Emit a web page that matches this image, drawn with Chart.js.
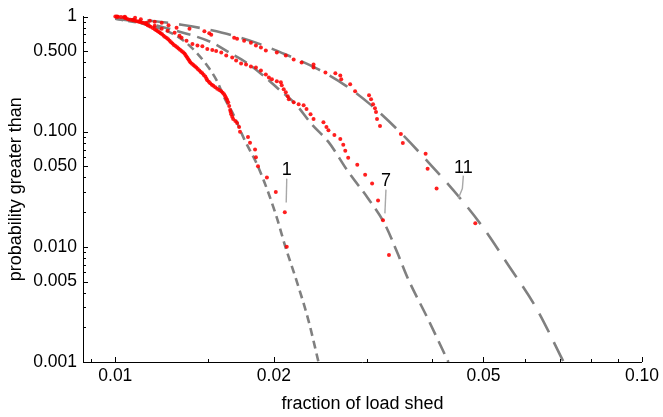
<!DOCTYPE html>
<html>
<head>
<meta charset="utf-8">
<script src="https://cdn.jsdelivr.net/npm/chart.js@4.4.1/dist/chart.umd.min.js"></script>
<style>
  html, body { margin: 0; padding: 0; background: #fff; }
</style>
</head>
<body>
<canvas id="chart" width="663" height="417"></canvas>
<script>
// axis ranges and ticks
const xMin = 0.008682, xMax = 0.1;
const yMin = 0.001, yMax = 1;
const xTicks = [0.009, 0.01, 0.015, 0.02, 0.03, 0.04, 0.05, 0.06, 0.07, 0.08, 0.09, 0.1];
const xMajor = [0.01, 0.02, 0.05, 0.1];
const xMajorLabels = ['0.01', '0.02', '0.05', '0.10'];
const yTicks = [0.001, 0.002, 0.003, 0.004, 0.005, 0.006, 0.007, 0.008, 0.009,
  0.01, 0.02, 0.03, 0.04, 0.05, 0.06, 0.07, 0.08, 0.09,
  0.1, 0.2, 0.3, 0.4, 0.5, 0.6, 0.7, 0.8, 0.9, 1];
const yMajor = [0.001, 0.005, 0.01, 0.05, 0.1, 0.5, 1];
const yMajorLabels = ['0.001', '0.005', '0.010', '0.050', '0.100', '0.500', '1'];

// model curves (dashed)
const curve1X = [0.0100, 0.01128, 0.01284, 0.01383, 0.01489, 0.01561, 0.01609, 0.01681, 0.01756, 0.01874, 0.02017, 0.02107, 0.02200, 0.02327, 0.02431];
const curve1Y = [0.955, 0.865, 0.709, 0.559, 0.383, 0.2735, 0.199, 0.1366, 0.0865, 0.0477, 0.01914, 0.00975, 0.00537, 0.00229, 0.001];
const curve7X = [0.0100, 0.01138, 0.01324, 0.01528, 0.01645, 0.01771, 0.01898, 0.02043, 0.02200, 0.02358, 0.02539, 0.02768, 0.0302, 0.0325, 0.0344, 0.0359, 0.0392, 0.0429];
const curve7Y = [0.955, 0.882, 0.738, 0.593, 0.4865, 0.399, 0.3143, 0.2334, 0.1733, 0.1165, 0.0815, 0.0449, 0.0263, 0.0157, 0.00865, 0.00537, 0.00238, 0.001];
const curve11X = [0.0100, 0.01163, 0.01336, 0.01596, 0.01849, 0.02107, 0.02431, 0.02733, 0.0306, 0.0344, 0.0397, 0.0452, 0.0502, 0.0554, 0.0631, 0.0710];
const curve11Y = [0.955, 0.918, 0.848, 0.724, 0.593, 0.4675, 0.347, 0.2527, 0.170, 0.1034, 0.0516, 0.0263, 0.01422, 0.00724, 0.0029, 0.001];

// observed points (red)
const obs1X = [0.01000, 0.01012, 0.01025, 0.01038, 0.01048, 0.01057, 0.01068, 0.01080, 0.01090, 0.01099,
  0.01108, 0.01118, 0.01128, 0.01138, 0.01145, 0.01152, 0.01160, 0.01167, 0.01178, 0.01188,
  0.01196, 0.01204, 0.01212, 0.01219, 0.01227, 0.01235, 0.01243, 0.01252, 0.01260, 0.01268,
  0.01276, 0.01284, 0.01292, 0.01301, 0.01310, 0.01318, 0.01327, 0.01336, 0.01345, 0.01353,
  0.01359, 0.01365, 0.01371, 0.01377, 0.01383, 0.01389, 0.01398, 0.01407, 0.01416, 0.01425,
  0.01434, 0.01444, 0.01453, 0.01463, 0.01472, 0.01482, 0.01489, 0.01495, 0.01505, 0.01514,
  0.01525, 0.01535, 0.01548, 0.01561, 0.01575, 0.01589, 0.01599, 0.01609, 0.01617, 0.01624,
  0.01631, 0.01638, 0.01645, 0.01652, 0.01656, 0.01660, 0.01667, 0.01674, 0.01690, 0.01703,
  0.01718, 0.01725, 0.01786, 0.01802, 0.01842, 0.01849, 0.01866, 0.01940, 0.02017, 0.02098, 0.02116];
const obs1Y = [1.000, 0.995, 0.990, 0.984, 0.965, 0.946, 0.936, 0.927, 0.918, 0.909,
  0.900, 0.891, 0.882, 0.874, 0.857, 0.840, 0.828, 0.815, 0.795, 0.776,
  0.760, 0.745, 0.731, 0.717, 0.700, 0.682, 0.665, 0.649, 0.633, 0.617,
  0.599, 0.582, 0.567, 0.554, 0.540, 0.527, 0.514, 0.501, 0.489, 0.477,
  0.463, 0.449, 0.436, 0.423, 0.411, 0.399, 0.389, 0.380, 0.370, 0.361,
  0.350, 0.340, 0.330, 0.321, 0.311, 0.302, 0.290, 0.279, 0.271, 0.263,
  0.256, 0.250, 0.243, 0.236, 0.230, 0.224, 0.218, 0.211, 0.203, 0.195,
  0.188, 0.180, 0.167, 0.154, 0.148, 0.142, 0.135, 0.129, 0.124, 0.119,
  0.110, 0.100, 0.090, 0.080, 0.070, 0.060, 0.050, 0.040, 0.030, 0.020, 0.010];
const obs7X = [0.01007, 0.01043, 0.01080, 0.01113, 0.01147, 0.01188, 0.01225, 0.01257, 0.01296, 0.01324,
  0.01336, 0.01365, 0.01401, 0.01432, 0.01463, 0.01495, 0.01528, 0.01554, 0.01589, 0.01624,
  0.01667, 0.01696, 0.01733, 0.01771, 0.01809, 0.01849, 0.0189, 0.01931, 0.01957, 0.01983,
  0.02026, 0.02062, 0.0207, 0.02088, 0.02107, 0.02125, 0.02135, 0.02181, 0.02229, 0.02278,
  0.02307, 0.02348, 0.02379, 0.02484, 0.02517, 0.02539, 0.02606, 0.02674, 0.02709, 0.02733,
  0.02768, 0.0288, 0.02981, 0.03073, 0.03154, 0.03223, 0.03308];
const obs7Y = [0.994, 0.974, 0.937, 0.909, 0.882, 0.831, 0.783, 0.753, 0.724, 0.682,
  0.655, 0.617, 0.576, 0.559, 0.553, 0.5215, 0.511, 0.501, 0.4865, 0.458,
  0.4405, 0.415, 0.391, 0.383, 0.368, 0.361, 0.340, 0.314, 0.296, 0.285,
  0.2735, 0.268, 0.253, 0.2334, 0.220, 0.203, 0.191, 0.180, 0.173, 0.170,
  0.157, 0.142, 0.129, 0.121, 0.110, 0.103, 0.0937, 0.0865, 0.0768, 0.0682,
  0.0593, 0.0516, 0.0423, 0.0355, 0.0253, 0.0170, 0.00848];
const obs11X = [0.01007, 0.01043, 0.0109, 0.01118, 0.01163, 0.01188, 0.01225, 0.01262, 0.01307, 0.01383,
  0.01476, 0.01508, 0.01521, 0.01681, 0.01703, 0.01756, 0.01809, 0.01849, 0.0189, 0.01931,
  0.02026, 0.02107, 0.02181, 0.02258, 0.02379, 0.02379, 0.02506, 0.02617, 0.02674, 0.02685,
  0.02792, 0.02853, 0.03032, 0.03059, 0.03086, 0.03112, 0.03126, 0.0314, 0.03181, 0.03485,
  0.03515, 0.03883, 0.03917, 0.04074, 0.04825];
const obs11Y = [1.0, 0.994, 0.975, 0.946, 0.918, 0.900, 0.882, 0.840, 0.799, 0.783,
  0.745, 0.717, 0.695, 0.655, 0.642, 0.617, 0.593, 0.559, 0.537, 0.506,
  0.4865, 0.458, 0.423, 0.399, 0.383, 0.361, 0.327, 0.321, 0.308, 0.285,
  0.258, 0.224, 0.207, 0.191, 0.173, 0.160, 0.148, 0.129, 0.112, 0.0955,
  0.0799, 0.0642, 0.0477, 0.0321, 0.0160];

// curve labels with leader lines
const calloutText = ['1', '7', '11'];
const calloutTextX = [0.02116, 0.03265, 0.04580];
const calloutTextY = [0.0468, 0.0376, 0.0486];
const calloutLineX = [[0.02116, 0.02111], [0.03265, 0.0325], [0.0458, 0.0456, 0.0448]];
const calloutLineY = [[0.0391, 0.0243], [0.0314, 0.01953], [0.0415, 0.0321, 0.0263]];

const FONT = '"Liberation Sans", Arial, Helvetica, sans-serif';
const pts = (xs, ys) => xs.map((x, i) => ({ x, y: ys[i] }));

function labelFor(majors, labels, v) {
  const i = majors.findIndex(m => Math.abs(m - v) < m * 1e-6);
  return i < 0 ? '' : labels[i];
}

function curve(xs, ys, dash) {
  return {
    data: pts(xs, ys),
    showLine: true,
    borderColor: '#808080',
    borderWidth: 2.6,
    borderDash: dash,
    borderCapStyle: 'butt',
    cubicInterpolationMode: 'monotone',
    pointRadius: 0,
    order: 2,
  };
}

function observed(xs, ys) {
  return {
    data: pts(xs, ys),
    showLine: false,
    pointRadius: 2,
    pointBorderWidth: 0,
    backgroundColor: 'rgba(255,0,0,0.88)',
    clip: false,
    order: 1,
  };
}

// inward tick marks, Mathematica style
const tickMarks = {
  id: 'tickMarks',
  afterDraw(chart) {
    const { ctx, chartArea: a, scales: { x, y } } = chart;
    ctx.save();
    ctx.strokeStyle = '#000';
    ctx.lineWidth = 1;
    ctx.beginPath();
    xTicks.forEach(v => {
      const px = Math.round(x.getPixelForValue(v)) + 0.5;
      const len = labelFor(xMajor, xMajorLabels, v) ? 5 : 3;
      ctx.moveTo(px, a.bottom);
      ctx.lineTo(px, a.bottom - len);
    });
    yTicks.forEach(v => {
      const py = Math.round(y.getPixelForValue(v)) + 0.5;
      const len = labelFor(yMajor, yMajorLabels, v) ? 5 : 3;
      ctx.moveTo(a.left, py);
      ctx.lineTo(a.left + len, py);
    });
    ctx.stroke();
    ctx.restore();
  }
};

const callouts = {
  id: 'callouts',
  afterDatasetsDraw(chart) {
    const { ctx, scales: { x, y } } = chart;
    ctx.save();
    ctx.strokeStyle = '#a8a8a8';
    ctx.lineWidth = 1.4;
    calloutLineX.forEach((xs, i) => {
      ctx.beginPath();
      xs.forEach((xv, j) => {
        const px = x.getPixelForValue(xv), py = y.getPixelForValue(calloutLineY[i][j]);
        if (j === 0) ctx.moveTo(px, py); else ctx.lineTo(px, py);
      });
      ctx.stroke();
    });
    ctx.fillStyle = '#000';
    ctx.font = '18px ' + FONT;
    ctx.textAlign = 'center';
    ctx.textBaseline = 'middle';
    calloutText.forEach((t, i) => {
      ctx.fillText(t, x.getPixelForValue(calloutTextX[i]), y.getPixelForValue(calloutTextY[i]));
    });
    ctx.restore();
  }
};

new Chart(document.getElementById('chart'), {
  type: 'scatter',
  data: {
    datasets: [
      observed(obs1X, obs1Y),
      observed(obs7X, obs7Y),
      observed(obs11X, obs11Y),
      curve(curve1X, curve1Y, [8, 5]),
      curve(curve7X, curve7Y, [14, 7]),
      curve(curve11X, curve11Y, [21, 11]),
    ],
  },
  options: {
    responsive: false,
    animation: false,
    devicePixelRatio: 1,
    layout: { padding: { left: 0, right: 17, top: 14, bottom: 0 } },
    plugins: { legend: { display: false }, tooltip: { enabled: false } },
    scales: {
      x: {
        type: 'logarithmic',
        min: xMin,
        max: xMax,
        afterBuildTicks: s => { s.ticks = xTicks.map(v => ({ value: v })); },
        afterFit: s => { s.height = 55; },
        grid: { drawOnChartArea: false, drawTicks: false },
        border: { color: '#000', width: 1 },
        ticks: {
          autoSkip: false, maxRotation: 0, padding: 4, color: '#000',
          font: { family: FONT, size: 17.5 },
          callback: v => labelFor(xMajor, xMajorLabels, v),
        },
        title: {
          display: true, text: 'fraction of load shed', color: '#000',
          font: { family: FONT, size: 18 }, padding: { top: 0, bottom: 2 },
        },
      },
      y: {
        type: 'logarithmic',
        min: yMin,
        max: yMax,
        afterBuildTicks: s => { s.ticks = yTicks.map(v => ({ value: v })); },
        afterFit: s => { s.width = 83; },
        grid: { drawOnChartArea: false, drawTicks: false },
        border: { color: '#000', width: 1 },
        ticks: {
          autoSkip: false, padding: 6, color: '#000',
          font: { family: FONT, size: 17.5 },
          callback: v => labelFor(yMajor, yMajorLabels, v),
        },
        title: {
          display: true, text: 'probability greater than', color: '#000',
          font: { family: FONT, size: 18 }, padding: { top: 5, bottom: 0 },
        },
      },
    },
  },
  plugins: [tickMarks, callouts],
});
</script>
</body>
</html>
